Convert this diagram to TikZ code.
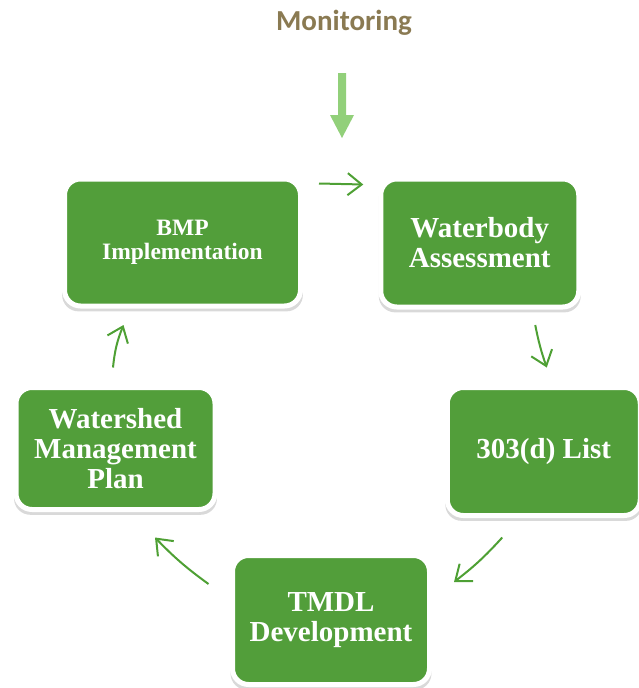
\documentclass[tikz,border=0pt]{standalone}
\usepackage{fontspec}
\setmainfont{Liberation Serif}
\newfontfamily\monfont{Carlito}
\usepackage{tikz}
\usetikzlibrary{arrows.meta, shadows, calc}
\definecolor{boxgreen}{RGB}{82,158,58}
\definecolor{linegreen}{RGB}{78,160,52}
\definecolor{lightgreen}{RGB}{146,208,122}
\definecolor{montext}{RGB}{138,122,82}

\tikzset{
  stagebox/.style={rectangle, rounded corners=16pt, fill=boxgreen, draw=white,
    line width=5pt, text=white, align=center, inner sep=0pt,
    font=\fontsize{29}{30}\selectfont\bfseries,
    drop shadow={shadow xshift=0pt, shadow yshift=-4pt, shadow scale=1.02, opacity=0.3}},
  flow/.style={draw=linegreen, line width=2pt,
    -{Straight Barb[length=14pt, width=22pt]}},
}

\begin{document}
\begin{tikzpicture}[x=1pt, y=-1pt]
    \useasboundingbox (0,0) rectangle (638,688);
    \node[font=\monfont\fontsize{29}{30}\selectfont\bfseries, text=montext] (mon) at (344,23) {Monitoring};
    \fill[lightgreen] (338,73) -- (346,73) -- (346,115) -- (354,115) -- (342,138) -- (330,115) -- (338,115) -- cycle;
    % the five stages
    \node[stagebox, minimum width=236pt, minimum height=127pt,
          font=\fontsize{23.5}{24}\selectfont\bfseries] (bmp) at (182.5,242.5) {BMP\\Implementation};
    \node[stagebox, minimum width=198pt, minimum height=128pt] (wb) at (479.75,243) {Waterbody\\Assessment};
    \node[stagebox, minimum width=193pt, minimum height=128pt] (list) at (543.75,451.5) {303(d) List};
    \node[stagebox, minimum width=199pt, minimum height=122pt] (ws) at (115.5,448.5) {Watershed\\Management\\Plan};
    \node[stagebox, minimum width=197pt, minimum height=129pt] (tmdl) at (331,620) {TMDL\\Development};
    % cycle arrows
    \draw[flow] ([shift={(16,7)}]bmp.north east) -- ([shift={(-15,8)}]wb.north west);
    \draw[flow] ([shift={(-46,15.5)}]wb.south east) to[bend right=4] ([shift={(3,-17.5)}]list.north);
    \draw[flow] ([shift={(57.5,19.5)}]list.south west) to[bend left=5] ([shift={(22,-38)}]tmdl.east);
    \draw[flow] ([shift={(-21.5,-36)}]tmdl.west) to[bend left=5] ([shift={(39.5,25.5)}]ws.south);
    \draw[flow] ([shift={(-2.5,-17.5)}]ws.north) to[bend left=8] ([shift={(61.5,16.5)}]bmp.south west);
\end{tikzpicture}
\end{document}
